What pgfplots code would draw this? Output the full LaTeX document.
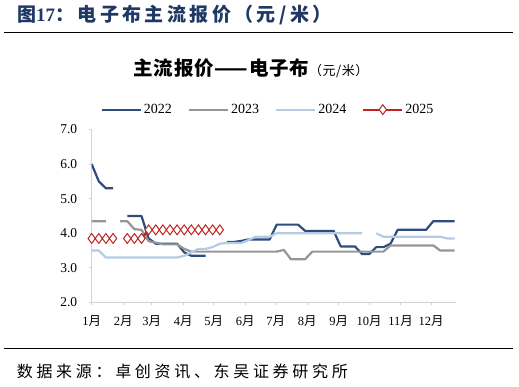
\documentclass[border=0pt]{standalone}
\usepackage{fontspec}
\usepackage{pgfplots}
\pgfplotsset{compat=1.18}
\setmainfont{Liberation Serif}
\newfontfamily\cjk{Noto Sans CJK SC}
\newcommand\yue{{\cjk 月}}
\definecolor{navy}{RGB}{46,76,128}
\definecolor{gry}{RGB}{150,150,150}
\definecolor{lblue}{RGB}{180,203,228}
\definecolor{dred}{RGB}{192,36,30}
\definecolor{titleblue}{RGB}{31,56,100}
\definecolor{axisgray}{RGB}{210,210,210}
\begin{document}
\begin{tikzpicture}[x=1pt,y=1pt]
\useasboundingbox (0,0) rectangle (519,387);
\node[anchor=west, inner sep=0, text=titleblue, font=\cjk\bfseries\fontsize{19}{19}\selectfont\addfontfeature{LetterSpace=18}] at (17,372) {图{\rmfamily\bfseries 17}：电子布主流报价（元/米）};
\draw[line width=1.2pt] (4,354.5) -- (513,354.5);
\node[inner sep=0, font=\cjk\bfseries\fontsize{19.5}{19.5}\selectfont\addfontfeature{LetterSpace=4}] at (251,318.5) {主流报价——电子布{\mdseries\fontsize{13}{13}\selectfont（元/米）}};
\draw[line width=1.2pt] (4,38.7) -- (513,38.7);
\node[anchor=west, inner sep=0, font=\cjk\fontsize{16}{16}\selectfont\addfontfeature{LetterSpace=23}] at (16.7,16) {数据来源：卓创资讯、东吴证券研究所};
\begin{axis}[
  at={(91.7pt,84.5pt)}, anchor=south west, scale only axis,
  width=364.3pt, height=173pt,
  xmin=0, xmax=51.2, ymin=2, ymax=7,
  axis lines*=left,
  axis line style={draw=axisgray, line width=0.8pt},
  tick style={draw=axisgray, line width=0.8pt},
  tick align=outside, major tick length=3pt,
  xtick={0,4.43,8.43,12.86,17.14,21.57,25.86,30.29,34.71,39,43.43,47.71},
  xticklabels={{1\yue},{2\yue},{3\yue},{4\yue},{5\yue},{6\yue},{7\yue},{8\yue},{9\yue},{10\yue},{11\yue},{12\yue}},
  ytick={2,3,4,5,6,7},
  yticklabel={\pgfmathprintnumber[fixed,fixed zerofill,precision=1,assume math mode=true]{\tick}},
  xticklabel style={font=\fontsize{12.5}{12.5}\selectfont, yshift=-7pt},
  yticklabel style={font=\fontsize{13.5}{13.5}\selectfont, xshift=-8pt},
  unbounded coords=jump,
  legend columns=4,
  legend style={at={(0.484,1.115)}, anchor=center, draw=none, fill=none,
    font=\fontsize{14}{14}\selectfont,
    /tikz/every even column/.append style={column sep=14pt}},
  legend image code/.code={\draw[mark repeat=2,mark phase=2,#1] plot coordinates {(0pt,0pt) (19.5pt,0pt) (39pt,0pt)};},
]
\addplot[navy, line width=2.2pt, line join=round, no markers] table {
x y
0 6.0
1 5.5
2 5.3
3 5.3
4 nan
5 4.5
6 4.5
7 4.5
8 3.85
9 3.7
10 3.7
11 3.7
12 3.7
13 3.45
14 3.35
15 3.35
16 3.35
17 nan
18 nan
19 3.75
20 3.75
21 3.78
22 3.82
23 3.82
24 3.82
25 3.82
26 4.25
27 4.25
28 4.25
29 4.25
30 4.07
31 4.07
32 4.07
33 4.07
34 4.07
35 3.62
36 3.62
37 3.62
38 3.4
39 3.4
40 3.6
41 3.6
42 3.7
43 4.1
44 4.1
45 4.1
46 4.1
47 4.1
48 4.35
49 4.35
50 4.35
51 4.35
};
\addlegendentry{2022}
\addplot[gry, line width=2.2pt, line join=round, no markers] table {
x y
0 4.35
1 4.35
2 4.35
3 nan
4 4.35
5 4.35
6 4.12
7 4.1
8 3.77
9 3.73
10 3.68
11 3.68
12 3.68
13 3.55
14 3.47
15 3.47
16 3.47
17 3.47
18 3.47
19 3.47
20 3.47
21 3.47
22 3.47
23 3.47
24 3.47
25 3.47
26 3.47
27 3.52
28 3.25
29 3.25
30 3.25
31 3.47
32 3.47
33 3.47
34 3.47
35 3.47
36 3.47
37 3.47
38 3.47
39 3.47
40 3.47
41 3.47
42 3.65
43 3.65
44 3.65
45 3.65
46 3.65
47 3.65
48 3.65
49 3.5
50 3.5
51 3.5
};
\addlegendentry{2023}
\addplot[lblue, line width=2.2pt, line join=round, no markers] table {
x y
0 3.5
1 3.5
2 3.3
3 3.3
4 3.3
5 3.3
6 3.3
7 3.3
8 3.3
9 3.3
10 3.3
11 3.3
12 3.3
13 3.35
14 3.45
15 3.55
16 3.55
17 3.6
18 3.7
19 3.72
20 3.72
21 3.72
22 3.8
23 3.9
24 3.9
25 3.9
26 4.0
27 4.0
28 4.0
29 4.0
30 4.0
31 4.0
32 4.0
33 4.0
34 4.0
35 4.0
36 4.0
37 4.0
38 4.0
39 nan
40 4.0
41 3.9
42 3.9
43 3.9
44 3.9
45 3.9
46 3.9
47 3.9
48 3.9
49 3.9
50 3.85
51 3.85
};
\addlegendentry{2024}
\addplot[dred, line width=2pt, mark=diamond*, mark size=4.9pt, mark options={fill=white, draw=dred, line width=1pt}] table {
x y
0 3.85
1 3.85
2 3.85
3 3.85
4 nan
5 3.85
6 3.85
7 3.85
8 4.1
9 4.1
10 4.1
11 4.1
12 4.1
13 4.1
14 4.1
15 4.1
16 4.1
17 4.1
18 4.1
};
\addlegendentry{2025}
\end{axis}
\end{tikzpicture}
\end{document}
